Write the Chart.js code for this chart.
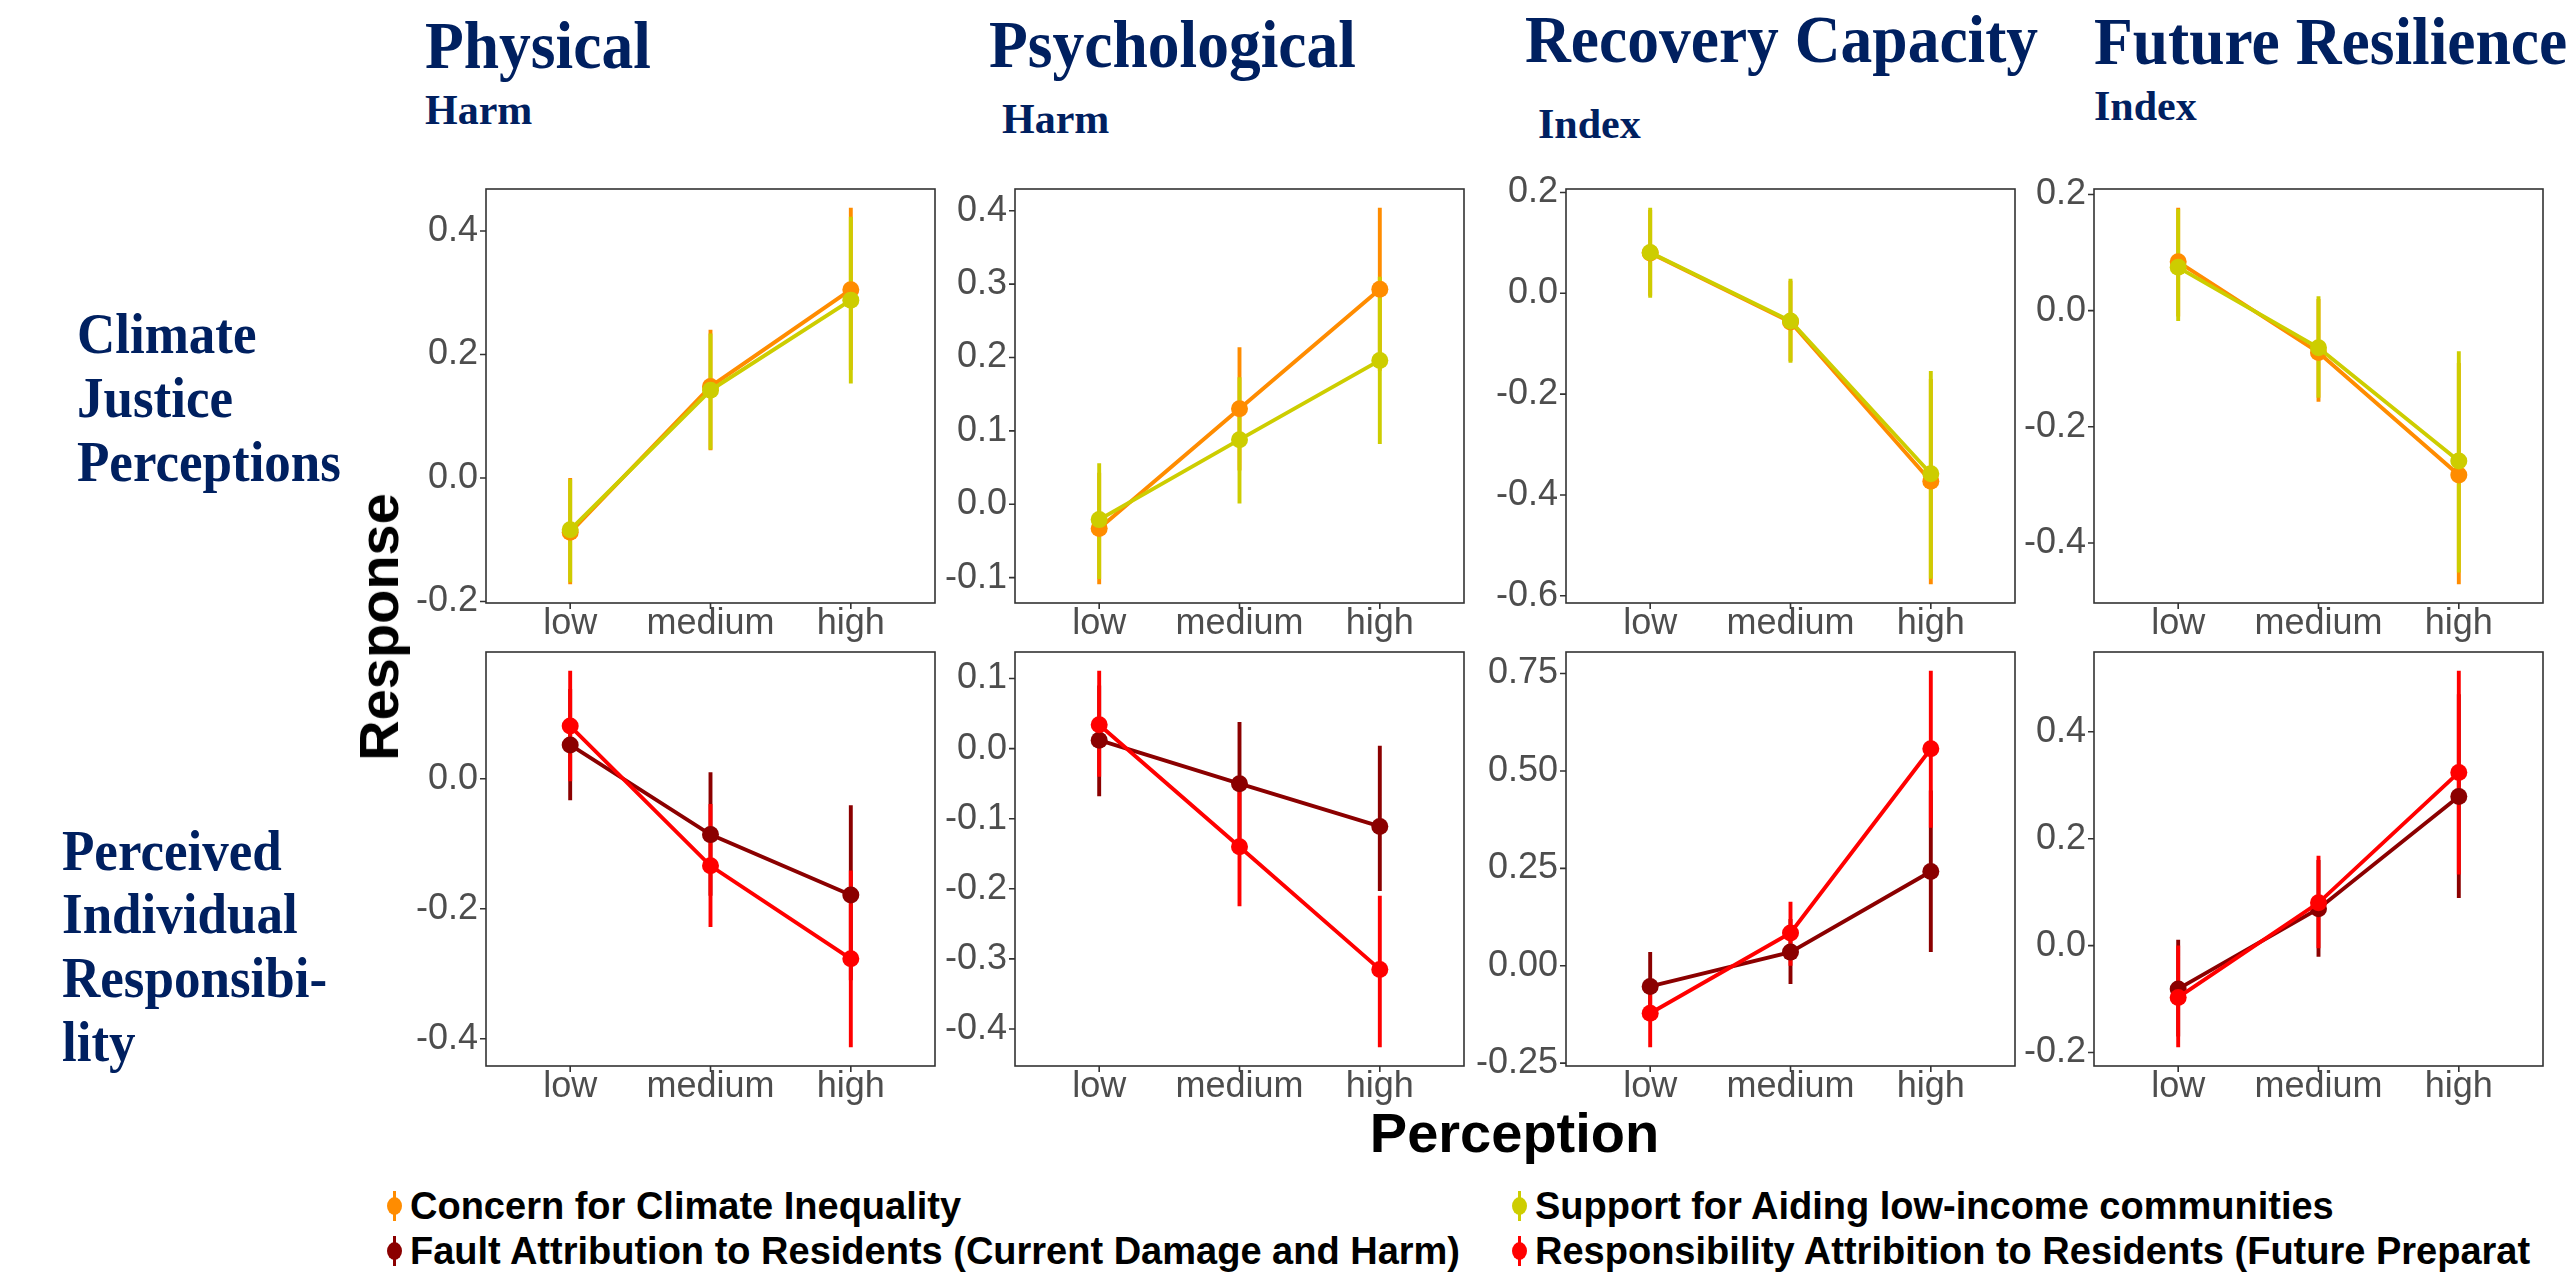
<!DOCTYPE html>
<html><head><meta charset="utf-8">
<script src="https://cdn.jsdelivr.net/npm/chart.js@4.4.1/dist/chart.umd.min.js"></script>
<style>
html,body{margin:0;padding:0;background:#fff;width:2572px;height:1277px;overflow:hidden;position:relative;}
.t{position:absolute;white-space:nowrap;line-height:1;margin:0;}
.serif{font-family:'Liberation Serif','Times New Roman',serif;font-weight:bold;color:#002060;}
.sans{font-family:'Liberation Sans',Arial,sans-serif;font-weight:bold;color:#000;}
canvas{position:absolute;}
</style></head><body>
<script>
// ---------------- DATA ----------------
const categories = ['low', 'medium', 'high'];
const seriesNames = [
  'Concern for Climate Inequality',
  'Support for Aiding low-income communities',
  'Fault Attribution to Residents (Current Damage and Harm)',
  'Responsibility Attribition to Residents (Future Preparat'
];
const columnTitles = ['Physical', 'Psychological', 'Recovery Capacity', 'Future Resilience'];
const columnSubtitles = ['Harm', 'Harm', 'Index', 'Index'];
const rowTitles = [['Climate', 'Justice', 'Perceptions'], ['Perceived', 'Individual', 'Responsibi-', 'lity']];
const xAxisTitle = 'Perception';
const yAxisTitle = 'Response';

// Physical Harm – Climate Justice Perceptions
const physConcern   = [-0.088, 0.148, 0.305];
const physConcernLo = [-0.172, 0.045, 0.175];
const physConcernHi = [0.000, 0.240, 0.4375];
const physSupport   = [-0.084, 0.142, 0.288];
const physSupportLo = [-0.169, 0.046, 0.153];
const physSupportHi = [-0.002, 0.234, 0.423];
// Psychological Harm – Climate Justice Perceptions
const psyConcern   = [-0.033, 0.130, 0.293];
const psyConcernLo = [-0.109, 0.046, 0.182];
const psyConcernHi = [0.043, 0.214, 0.404];
const psySupport   = [-0.021, 0.088, 0.196];
const psySupportLo = [-0.102, 0.001, 0.082];
const psySupportHi = [0.056, 0.173, 0.310];
// Recovery Capacity Index – Climate Justice Perceptions
const recConcern   = [0.080, -0.057, -0.373];
const recConcernLo = [-0.005, -0.135, -0.577];
const recConcernHi = [0.165, 0.025, -0.170];
const recSupport   = [0.081, -0.055, -0.358];
const recSupportLo = [-0.009, -0.138, -0.566];
const recSupportHi = [0.1695, 0.029, -0.154];
// Future Resilience Index – Climate Justice Perceptions
const futConcern   = [0.084, -0.072, -0.283];
const futConcernLo = [-0.010, -0.157, -0.471];
const futConcernHi = [0.177, 0.020, -0.090];
const futSupport   = [0.0745, -0.064, -0.259];
const futSupportLo = [-0.018, -0.150, -0.451];
const futSupportHi = [0.175, 0.0246, -0.070];
// Physical Harm – Perceived Individual Responsibility
const physFault   = [0.052, -0.086, -0.179];
const physFaultLo = [-0.033, -0.180, -0.310];
const physFaultHi = [0.138, 0.010, -0.041];
const physResp    = [0.081, -0.134, -0.277];
const physRespLo  = [-0.004, -0.228, -0.413];
const physRespHi  = [0.166, -0.039, -0.141];
// Psychological Harm – Perceived Individual Responsibility
const psyFault   = [0.012, -0.050, -0.111];
const psyFaultLo = [-0.068, -0.140, -0.203];
const psyFaultHi = [0.090, 0.038, 0.004];
const psyResp    = [0.034, -0.140, -0.315];
const psyRespLo  = [-0.040, -0.225, -0.426];
const psyRespHi  = [0.111, -0.061, -0.210];
// Recovery Capacity Index – Perceived Individual Responsibility
const recFault   = [-0.053, 0.035, 0.242];
const recFaultLo = [-0.140, -0.047, 0.035];
const recFaultHi = [0.035, 0.120, 0.450];
const recResp    = [-0.122, 0.084, 0.557];
const recRespLo  = [-0.209, 0.000, 0.354];
const recRespHi  = [-0.035, 0.164, 0.757];
// Future Resilience Index – Perceived Individual Responsibility
const futFault   = [-0.081, 0.069, 0.279];
const futFaultLo = [-0.170, -0.021, 0.089];
const futFaultHi = [0.011, 0.160, 0.470];
const futResp    = [-0.097, 0.080, 0.324];
const futRespLo  = [-0.190, -0.005, 0.133];
const futRespHi  = [0.000, 0.168, 0.514];

// y tick labels per panel
const physTopTicks = ['-0.2', '0.0', '0.2', '0.4'];
const psyTopTicks  = ['-0.1', '0.0', '0.1', '0.2', '0.3', '0.4'];
const recTopTicks  = ['-0.6', '-0.4', '-0.2', '0.0', '0.2'];
const futTopTicks  = ['-0.4', '-0.2', '0.0', '0.2'];
const physBotTicks = ['-0.4', '-0.2', '0.0'];
const psyBotTicks  = ['-0.4', '-0.3', '-0.2', '-0.1', '0.0', '0.1'];
const recBotTicks  = ['-0.25', '0.00', '0.25', '0.50', '0.75'];
const futBotTicks  = ['-0.2', '0.0', '0.2', '0.4'];

// ---------------- STYLE / LAYOUT ----------------
const COLORS = ['#FF8C00', '#CDCD00', '#8B0000', '#FF0000'];
const COL_LEFT = [486, 1015, 1565.5, 2094];
const ROW_TOP = [189, 652];
const BOX_W = 449, BOX_H = 414;
const SANS = "'Liberation Sans', Arial, sans-serif";
const LINE_W = 3.9, BAR_W = 3.9, PT_R = 8.5;

const panels = [
  {row: 0, col: 0, ticks: physTopTicks, series: [
    {n: 0, v: physConcern, lo: physConcernLo, hi: physConcernHi},
    {n: 1, v: physSupport, lo: physSupportLo, hi: physSupportHi}]},
  {row: 0, col: 1, ticks: psyTopTicks, series: [
    {n: 0, v: psyConcern, lo: psyConcernLo, hi: psyConcernHi},
    {n: 1, v: psySupport, lo: psySupportLo, hi: psySupportHi}]},
  {row: 0, col: 2, ticks: recTopTicks, series: [
    {n: 0, v: recConcern, lo: recConcernLo, hi: recConcernHi},
    {n: 1, v: recSupport, lo: recSupportLo, hi: recSupportHi}]},
  {row: 0, col: 3, ticks: futTopTicks, series: [
    {n: 0, v: futConcern, lo: futConcernLo, hi: futConcernHi},
    {n: 1, v: futSupport, lo: futSupportLo, hi: futSupportHi}]},
  {row: 1, col: 0, ticks: physBotTicks, series: [
    {n: 2, v: physFault, lo: physFaultLo, hi: physFaultHi},
    {n: 3, v: physResp, lo: physRespLo, hi: physRespHi}]},
  {row: 1, col: 1, ticks: psyBotTicks, series: [
    {n: 2, v: psyFault, lo: psyFaultLo, hi: psyFaultHi},
    {n: 3, v: psyResp, lo: psyRespLo, hi: psyRespHi}]},
  {row: 1, col: 2, ticks: recBotTicks, series: [
    {n: 2, v: recFault, lo: recFaultLo, hi: recFaultHi},
    {n: 3, v: recResp, lo: recRespLo, hi: recRespHi}]},
  {row: 1, col: 3, ticks: futBotTicks, series: [
    {n: 2, v: futFault, lo: futFaultLo, hi: futFaultHi},
    {n: 3, v: futResp, lo: futRespLo, hi: futRespHi}]}
];

const framePlugin = {
  id: 'frame',
  beforeDatasetsDraw(chart) {
    const {ctx, chartArea: a, scales: {x, y}} = chart;
    ctx.save();
    ctx.strokeStyle = '#333333';
    ctx.lineWidth = 1.6;
    ctx.strokeRect(a.left, a.top, a.right - a.left, a.bottom - a.top);
    ctx.beginPath();
    y.ticks.forEach(t => { const py = y.getPixelForValue(t.value); ctx.moveTo(a.left - 6, py); ctx.lineTo(a.left, py); });
    x.ticks.forEach(t => { const px = x.getPixelForValue(t.value); ctx.moveTo(px, a.bottom); ctx.lineTo(px, a.bottom + 6); });
    ctx.stroke();
    // error bars (all series, drawn beneath lines and points)
    chart.data.datasets.forEach(ds => {
      ctx.strokeStyle = ds.borderColor;
      ctx.lineWidth = BAR_W;
      ctx.lineCap = 'butt';
      ctx.beginPath();
      ds.errLo.forEach((lo, i) => {
        const px = x.getPixelForValue(ds.data[i].x);
        ctx.moveTo(px, y.getPixelForValue(lo));
        ctx.lineTo(px, y.getPixelForValue(ds.errHi[i]));
      });
      ctx.stroke();
    });
    ctx.restore();
  }
};

function makePanel(p) {
  const YW = 120, PT = 30, PR = 22, XH = 60;
  const w = YW + BOX_W + PR, h = PT + BOX_H + XH;
  const cv = document.createElement('canvas');
  cv.width = w; cv.height = h;
  cv.style.width = w + 'px'; cv.style.height = h + 'px';
  cv.style.left = (COL_LEFT[p.col] - YW) + 'px';
  cv.style.top = (ROW_TOP[p.row] - PT) + 'px';
  document.body.appendChild(cv);
  const all = p.series.flatMap(s => s.lo.concat(s.hi, s.v));
  const mn = Math.min(...all), mx = Math.max(...all);
  const pad = (mx - mn) * 0.05;
  const k = p.series.length;
  new Chart(cv, {
    type: 'line',
    data: {
      datasets: p.series.map((s, j) => ({
        label: seriesNames[s.n],
        data: s.v.map((v, i) => ({x: i + 1, y: v})),
        errLo: s.lo, errHi: s.hi,
        borderColor: COLORS[s.n], backgroundColor: COLORS[s.n],
        pointBackgroundColor: COLORS[s.n], pointBorderWidth: 0,
        pointRadius: PT_R, borderWidth: LINE_W, tension: 0, fill: false,
        order: k - j
      }))
    },
    options: {
      responsive: false, animation: false, devicePixelRatio: 1,
      layout: {padding: {top: PT, right: PR, left: 0, bottom: 0}},
      plugins: {legend: {display: false}, tooltip: {enabled: false}},
      events: [],
      scales: {
        x: {
          type: 'linear', min: 0.4, max: 3.6,
          grid: {display: false, drawTicks: false, tickLength: 0},
          border: {display: false},
          afterBuildTicks: sc => { sc.ticks = categories.map((c, i) => ({value: i + 1})); },
          afterFit: sc => { sc.height = XH; },
          ticks: {autoSkip: false, maxRotation: 0, minRotation: 0, padding: 0,
            font: {family: SANS, size: 36, lineHeight: 1.15}, color: '#4D4D4D',
            callback: v => categories[Math.round(v) - 1]}
        },
        y: {
          type: 'linear', min: mn - pad, max: mx + pad,
          grid: {display: false, drawTicks: false, tickLength: 0},
          border: {display: false},
          afterBuildTicks: sc => { sc.ticks = p.ticks.map(t => ({value: Number(t)})); },
          afterFit: sc => { sc.width = YW; },
          ticks: {autoSkip: false, padding: 8,
            font: {family: SANS, size: 36, lineHeight: 1.15}, color: '#4D4D4D',
            callback: v => p.ticks.find(t => Math.abs(Number(t) - v) < 1e-9)}
        }
      }
    },
    plugins: [framePlugin]
  });
}
panels.forEach(makePanel);

// ---------------- TEXT ----------------
function addText(txt, x, baseline, size, cls, scaleY) {
  const d = document.createElement('div');
  d.className = 't ' + cls;
  d.textContent = txt;
  const asc = cls === 'serif' ? 0.8375 : 0.8465;
  d.style.fontSize = size + 'px';
  d.style.left = x + 'px';
  d.style.top = (baseline - asc * size) + 'px';
  if (scaleY) {
    d.style.transformOrigin = '0 ' + (asc * size) + 'px';
    d.style.transform = 'scaleY(' + scaleY + ')';
  }
  document.body.appendChild(d);
  return d;
}
const titleX = [425, 989, 1525, 2094];
const titleBase = [68, 67, 62, 64];
const subX = [425, 1002, 1538, 2094];
const subBase = [124, 133, 138, 120];
columnTitles.forEach((t, i) => addText(t, titleX[i], titleBase[i], 63.5, 'serif', 1.07));
columnSubtitles.forEach((t, i) => addText(t, subX[i], subBase[i], 42, 'serif'));
const rowX = [77, 62];
const rowBase = [353.6, 870];
rowTitles.forEach((lines, r) => lines.forEach((t, i) => addText(t, rowX[r], rowBase[r] + i * 63.7, 53, 'serif', 1.06)));

// axis titles
const xt = addText(xAxisTitle, 1514.5, 1152, 56, 'sans');
xt.style.transform = 'translateX(-50%)';
const yt = document.createElement('div');
yt.className = 't sans';
yt.textContent = yAxisTitle;
yt.style.fontSize = '56px';
yt.style.left = '378.6px';
yt.style.top = '627px';
yt.style.transform = 'translate(-50%,-50%) rotate(-90deg)';
document.body.appendChild(yt);

// legend
const legX = [394, 1519, 394, 1519];
const legY = [1206, 1206, 1250.7, 1250.7];
const legBase = [1219.3, 1219.3, 1264.3, 1264.3];
seriesNames.forEach((name, i) => {
  const ln = document.createElement('div');
  ln.style.cssText = `position:absolute;left:${legX[i] - 1.5}px;top:${legY[i] - 15}px;width:3px;height:30px;background:${COLORS[i]};`;
  document.body.appendChild(ln);
  const dot = document.createElement('div');
  dot.style.cssText = `position:absolute;left:${legX[i] - 7.5}px;top:${legY[i] - 9}px;width:15px;height:18px;border-radius:50%;background:${COLORS[i]};`;
  document.body.appendChild(dot);
  addText(name, legX[i] + 16, legBase[i], 38, 'sans');
});
</script>
</body></html>
